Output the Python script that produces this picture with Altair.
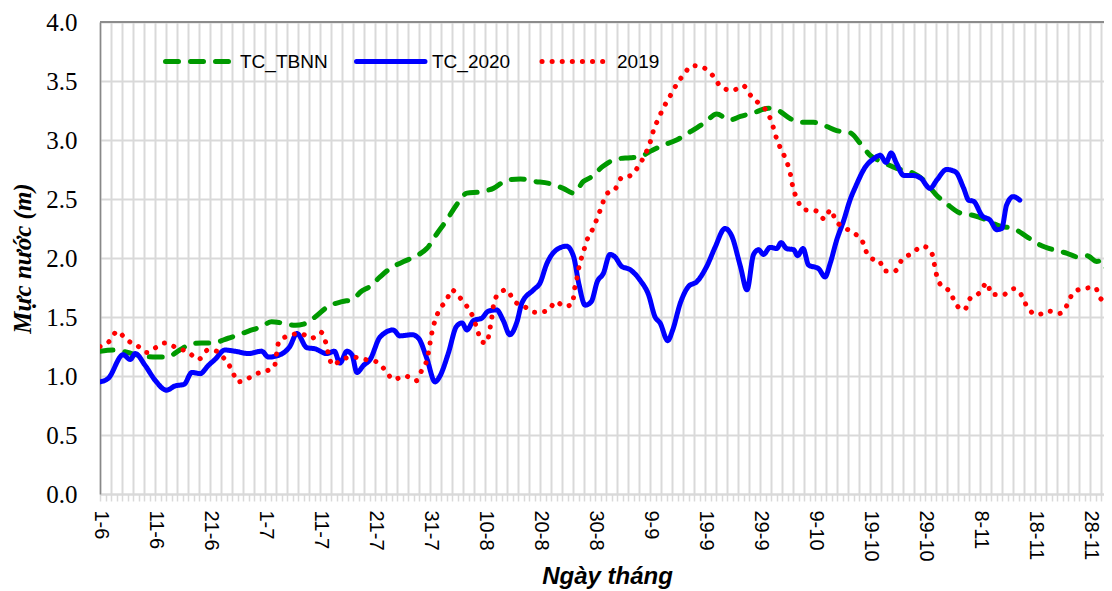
import altair as alt
import pandas as pd

# ---------------- data ----------------
# x positions are day indices counted from 1-6 (0 = 1 June)
x_tick_labels = ["1-6", "11-6", "21-6", "1-7", "11-7", "21-7", "31-7", "10-8", "20-8",
                 "30-8", "9-9", "19-9", "29-9", "9-10", "19-10", "29-10", "8-11", "18-11", "28-11"]

series_names = ["TC_TBNN", "TC_2020", "2019"]

tbnn_day = [0, 2.7, 5.8, 7.6, 10.3, 12.1, 14.5, 16.4, 18.5, 20.3, 23.3, 27, 29.4, 31.2, 33, 35.5,
            37, 39.1, 41.5, 44, 46, 47.3, 49.1, 50.9, 52.7, 55.2, 57.6, 59.4, 61.3, 63.0, 64.8,
            66.7, 69.1, 71.5, 74.0, 76.4, 78.8, 81.8, 84.2, 86.1, 87.9, 89.1, 91.5, 94, 96.4,
            98.2, 100.3, 102.1, 104.8, 107.3, 110, 112.1, 114.5, 116.4, 118.8, 121.5, 123.3,
            125.5, 127.3, 129.7, 131.8, 133.9, 136.4, 138.2, 140, 142.4, 144.8, 147.3, 149.7,
            152.1, 153.9, 156.4, 158.8, 161.2, 163.6, 166, 168.5, 170.9, 173.3, 175.8, 177.6,
            179.4, 181.2, 182.1, 183.1, 184]
tbnn_val = [1.21, 1.22, 1.19, 1.17, 1.16, 1.16, 1.22, 1.27, 1.28, 1.28, 1.32, 1.38, 1.42, 1.46, 1.45, 1.43,
            1.44, 1.50, 1.59, 1.63, 1.65, 1.71, 1.76, 1.84, 1.91, 1.97, 2.02, 2.08, 2.21, 2.32, 2.45,
            2.55, 2.56, 2.59, 2.66, 2.67, 2.65, 2.63, 2.59, 2.55, 2.65, 2.68, 2.78, 2.84, 2.85,
            2.86, 2.91, 2.95, 3.00, 3.07, 3.15, 3.22, 3.17, 3.20, 3.23, 3.27, 3.25,
            3.18, 3.15, 3.15, 3.12, 3.08, 3.06, 2.97, 2.87, 2.81, 2.76, 2.73, 2.66,
            2.53, 2.46, 2.38, 2.36, 2.32, 2.27, 2.25, 2.18, 2.11, 2.07, 2.04, 2.01,
            2.02, 1.97, 1.98, 1.91, 1.92]

tc2020_day = [0, 1.5, 4.2, 5.5, 6.4, 8.2, 10, 12.1, 13.6, 15.3, 16.7, 18.2, 19.7, 20.9, 22.7, 24.5,
              27, 29.4, 30.6, 32.7, 34.5, 35.8, 37.6, 39.1, 41.2, 42.6, 43.6, 44.9, 45.8, 46.7,
              47.9, 49.1, 50.9, 53.3, 54.5, 56.7, 57.9, 59.4, 60.9, 61.8, 63.3, 64.8, 65.8, 66.7,
              67.9, 69.4, 70.6, 72.1, 73.3, 74.5, 75.8, 76.7, 78.8, 80, 81.2, 83.0, 84.8, 86.1,
              87, 88.2, 89.3, 90.4, 91.5, 92.7, 93.6, 94.8, 96.4, 98.2, 99.7, 100.9, 101.8, 103.2,
              104.1, 105.5, 107.0, 108.5, 110.3, 111.8, 113.6, 114.8, 116.4, 117.6, 118.8, 119.7,
              120.6, 121.8, 123, 123.8, 124.8, 126.1, 126.8, 127.8, 128.8, 130.6, 131.8, 132.7,
              133.9, 135.2, 136.4, 137.3, 139.1, 140.6, 141.8, 142.9, 143.8, 144.8, 146.1, 147.6,
              149.1, 150.9, 152.1, 153.9, 155.5, 157, 157.9, 158.8, 160.3, 161.8, 163, 163.9,
              164.8, 166, 167.2]
tc2020_val = [0.95, 0.98, 1.18, 1.14, 1.19, 1.09, 0.965, 0.88, 0.915, 0.93, 1.03, 1.02, 1.09, 1.14, 1.22, 1.21,
              1.19, 1.21, 1.16, 1.18, 1.25, 1.36, 1.24, 1.23, 1.19, 1.21, 1.11, 1.21, 1.18, 1.03,
              1.09, 1.14, 1.33, 1.39, 1.34, 1.35, 1.32, 1.15, 0.95, 1.00, 1.19, 1.42, 1.45, 1.39,
              1.47, 1.49, 1.55, 1.56, 1.47, 1.35, 1.46, 1.62, 1.73, 1.79, 1.95, 2.07, 2.10, 2.01,
              1.79, 1.60, 1.63, 1.80, 1.87, 2.03, 2.01, 1.93, 1.90, 1.81, 1.69, 1.50, 1.45, 1.30,
              1.39, 1.62, 1.76, 1.80, 1.93, 2.09, 2.25, 2.19, 1.93, 1.73, 2.03, 2.07,
              2.03, 2.09, 2.08, 2.13, 2.08, 2.07, 2.02, 2.08, 1.94, 1.91, 1.84, 1.95,
              2.15, 2.32, 2.50, 2.60, 2.77, 2.84, 2.87, 2.81, 2.89, 2.80, 2.70, 2.70,
              2.68, 2.59, 2.66, 2.75, 2.73, 2.59, 2.49, 2.48, 2.36, 2.32, 2.24, 2.25,
              2.45, 2.52, 2.49]

y2019_day = [0, 1.6, 3.2, 4.7, 6.7, 8.5, 10.1, 11.8, 13.9, 16.1, 17.9, 19.6, 21.2, 22.7, 24, 25,
             26.5, 28.5, 30.1, 31.7, 32.1, 32.5, 34.2, 36.4, 38.5, 40.2, 41, 41.5, 42.3, 43.9,
             46, 48.2, 50.3, 52, 53.3, 55.5, 57.5, 58.5, 59.5, 60.3, 60.9, 61.8, 63.0, 63.9,
             65.3, 66.7, 67.8, 68.6, 69.4, 70.3, 70.8, 71.2, 71.5, 72.3, 73.9, 75.2, 77.1, 79.1,
             81.3, 82.9, 84.4, 85.9, 86.2, 86.7, 87.1, 87.8, 88.5, 89.5, 90.4, 91.2, 92, 93.6,
             94.8, 96.5, 97.9, 99.1, 100, 100.6, 101.5, 102.5, 103.6, 104.8, 106.2, 107.6, 109.8,
             111.5, 112.9, 115, 116.9, 118.4, 120, 121.5, 122.3, 123, 123.8, 124.8, 125.5, 125.9,
             126.7, 128, 130.1, 131.7, 132.8, 133.7, 135.2, 137.1, 138.7, 139.5, 140.5, 141.6,
             142.6, 144.5, 145.7, 147.6, 149.6, 151.2, 151.7, 152.2, 153.3, 154.5, 155.4, 157.1,
             158.2, 160, 161.2, 162.1, 164.2, 166.1, 167.7, 168.7, 170.5, 172.4, 174.4, 175.9,
             176.8, 178.6, 180.9, 181.8, 183.3, 184]
y2019_val = [1.25, 1.29, 1.38, 1.31, 1.26, 1.20, 1.24, 1.28, 1.24, 1.20, 1.14, 1.22, 1.21, 1.14, 1.05, 0.95,
             0.97, 1.02, 1.04, 1.08, 1.19, 1.29, 1.34, 1.36, 1.32, 1.37, 1.29, 1.19, 1.09, 1.14,
             1.16, 1.14, 1.12, 1.04, 0.97, 1.00, 0.96, 1.05, 1.15, 1.36, 1.47, 1.57, 1.64, 1.73,
             1.67, 1.59, 1.50, 1.39, 1.29, 1.28, 1.38, 1.49, 1.59, 1.69, 1.73, 1.64, 1.59, 1.54,
             1.55, 1.63, 1.59, 1.61, 1.72, 1.83, 1.93, 2.04, 2.15, 2.24, 2.34, 2.44, 2.54, 2.58,
             2.68, 2.70, 2.78, 2.88, 2.98, 3.08, 3.18, 3.28, 3.37, 3.47, 3.56, 3.63, 3.61,
             3.54, 3.45, 3.42, 3.46, 3.37, 3.30, 3.22, 3.12, 3.01, 2.92, 2.82, 2.71, 2.61,
             2.50, 2.41, 2.40, 2.33, 2.41, 2.32, 2.26, 2.21, 2.13, 2.03, 1.99, 1.98,
             1.89, 1.89, 1.98, 2.04, 2.10, 2.04, 1.94, 1.83, 1.75, 1.72, 1.62, 1.56,
             1.66, 1.71, 1.79, 1.69, 1.69, 1.74, 1.67, 1.57, 1.52, 1.55, 1.53, 1.61,
             1.70, 1.74, 1.75, 1.66, 1.62, 1.53]

# ---------------- styles ----------------
colors = ["#009900", "#0000ff", "#ff0000"]
dashes = [[13, 12], [1, 0], [0.1, 10]]
widths = [5, 5, 5]

df_list = [
    pd.DataFrame({"day": tbnn_day, "value": tbnn_val, "series": series_names[0]}),
    pd.DataFrame({"day": tc2020_day, "value": tc2020_val, "series": series_names[1]}),
    pd.DataFrame({"day": y2019_day, "value": y2019_val, "series": series_names[2]}),
]

x_scale = alt.Scale(domain=[0, 182.5], nice=False, zero=False)
y_scale = alt.Scale(domain=[0, 4], nice=False, zero=True)

labels_js = "[" + ",".join("'%s'" % s for s in x_tick_labels) + "]"

x_axis = alt.Axis(
    values=list(range(0, 183)),
    labelExpr="datum.value % 10 == 0 && datum.value <= 180 ? " + labels_js + "[datum.value / 10] : ''",
    labelAngle=90, labelAlign="left", labelBaseline="middle",
    labelFont="Liberation Sans", labelFontSize=20, labelColor="#000000",
    labelPadding=9, labelOverlap=False, labelBound=False, labelFlush=False,
    grid=True, gridColor="#d9d9d9", gridWidth=2,
    gridOpacity={"condition": {"test": "datum.value % 2 == 0", "value": 1}, "value": 0},
    ticks=True, tickSize=7, tickColor="#d9d9d9", tickWidth=1.5,
    domain=True, domainColor="#d9d9d9", domainWidth=2,
    title="Ngày tháng", titleFont="Liberation Sans", titleFontSize=24,
    titleFontStyle="italic", titleFontWeight="bold", titleColor="#000000",
    titleBaseline="alphabetic", titleY=89, titleX=507,
)

y_axis = alt.Axis(
    values=[0, 0.5, 1, 1.5, 2, 2.5, 3, 3.5, 4], format=".1f",
    labelFont="Liberation Serif", labelFontSize=25, labelColor="#000000",
    labelPadding=23, ticks=False, tickSize=0,
    grid=True, gridColor="#d9d9d9", gridWidth=2,
    domain=True, domainColor="#888888", domainWidth=1.5,
    title="Mực nước (m)", titleFont="Liberation Serif", titleFontSize=25,
    titleFontStyle="italic", titleFontWeight="bold", titleColor="#000000",
    titleX=-78, titleBaseline="middle",
)

layers = []

# dark top border of the plot area
layers.append(
    alt.Chart(pd.DataFrame({"a": [0]})).mark_rule(color="#8c8c8c", strokeWidth=2)
    .encode(y=alt.datum(4.0, scale=y_scale))
)

for i, df in enumerate(df_list):
    layers.append(
        alt.Chart(df).mark_line(
            color=colors[i], strokeWidth=widths[i], strokeDash=dashes[i],
            strokeCap="round", strokeJoin="round", interpolate="monotone", clip=True,
        ).encode(
            x=alt.X("day:Q", scale=x_scale, axis=x_axis),
            y=alt.Y("value:Q", scale=y_scale, axis=y_axis),
        )
    )

# legend inside the plot (pixel positions within plot area)
legend_x0 = [65.5, 256.5, 442]
legend_x1 = [130.5, 325, 510]
legend_tx = [140, 332, 517]
legend_y = 39.5
for i, name in enumerate(series_names):
    layers.append(
        alt.Chart(pd.DataFrame({"a": [0]})).mark_rule(
            color=colors[i], strokeWidth=widths[i], strokeDash=dashes[i], strokeCap="round"
        ).encode(x=alt.value(legend_x0[i]), x2=alt.value(legend_x1[i]), y=alt.value(legend_y))
    )
    layers.append(
        alt.Chart(pd.DataFrame({"a": [0]})).mark_text(
            align="left", baseline="middle", font="Liberation Sans", fontSize=19, color="#000000"
        ).encode(x=alt.value(legend_tx[i]), y=alt.value(legend_y), text=alt.value(name))
    )

chart = alt.layer(*layers).properties(
    width=1004, height=472,
    padding={"left": 92, "top": 14, "right": 0, "bottom": 97},
    autosize=alt.AutoSizeParams(type="none"),
).configure_view(stroke=None)

chart.save("out.html", embed_options={"renderer": "svg", "actions": False})
